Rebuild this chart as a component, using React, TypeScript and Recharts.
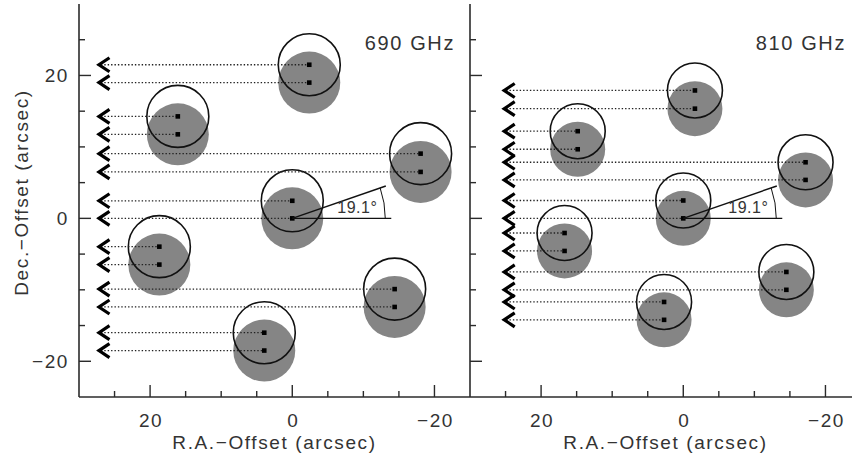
import React from 'react';
import { ScatterChart, Scatter, XAxis, YAxis, ReferenceDot } from 'recharts';

// ---- axes ----
const AXIS_DOMAIN: [number, number] = [-25, 30];
const X_TICKS = [25, 20, 15, 10, 5, 0, -5, -10, -15, -20];
const Y_TICKS = [-20, -15, -10, -5, 0, 5, 10, 15, 20, 25];
const LABELED_TICKS = [20, 0, -20];
const X_TITLE = 'R.A.\u2212Offset (arcsec)';
const Y_TITLE = 'Dec.\u2212Offset (arcsec)';

// ---- 690 GHz panel ----
const TITLE_690 = '690 GHz';
const RA_690 = [-2.39, 16.1, -18.05, 0, 18.7, -14.4, 3.94];
const DEC_LOW_690 = [19.0, 11.76, 6.5, 0, -6.47, -12.4, -18.5];
const DEC_HIGH_690 = [21.5, 14.27, 9.06, 2.46, -3.96, -9.9, -16.0];
const ARROW_RA_690 = 27.4;

// ---- 810 GHz panel ----
const TITLE_810 = '810 GHz';
const RA_810 = [-1.64, 14.85, -17.2, 0, 16.7, -14.5, 2.7];
const DEC_LOW_810 = [15.35, 9.67, 5.38, 0, -4.56, -10.0, -14.2];
const DEC_HIGH_810 = [17.9, 12.2, 7.85, 2.5, -2.05, -7.5, -11.7];
const ARROW_RA_810 = 25.4;

// ---- rotation angle marker ----
const ANGLE_DEG = 19.1;
const ANGLE_LABEL = '19.1\u00b0';
const ANGLE_ORIGIN = { x: 0, y: 0 };

// ---- styles ----
const FONT = "'Liberation Sans', Arial, Helvetica, sans-serif";
const TEXT = '#333';
const AXIS = '#2b2b2b';
const GRAY = '#858585';
const INK = '#111';

const fmt = (v: number) => (v < 0 ? '\u2212' + Math.abs(v) : String(v));
const isMajor = (v: number) => LABELED_TICKS.includes(v);
const tlen = (v: number) => (isMajor(v) ? 12 : 6);

const textStyle = { fontFamily: FONT, fill: TEXT, letterSpacing: 1.6 } as const;

const BottomTick = (p: any) => {
  const v = p.payload.value;
  return (
    <g>
      <line x1={p.x} y1={p.y} x2={p.x} y2={p.y - tlen(v)} stroke={AXIS} strokeWidth={1.4} />
      {isMajor(v) && (
        <text x={p.x + 1} y={p.y + 30} textAnchor="middle" fontSize={19} style={textStyle}>
          {fmt(v)}
        </text>
      )}
    </g>
  );
};
const TopTick = (p: any) => {
  const v = p.payload.value;
  return <line x1={p.x} y1={p.y} x2={p.x} y2={p.y + tlen(v)} stroke={AXIS} strokeWidth={1.4} />;
};
const LeftTickLabeled = (p: any) => {
  const v = p.payload.value;
  return (
    <g>
      <line x1={p.x} y1={p.y} x2={p.x + tlen(v)} y2={p.y} stroke={AXIS} strokeWidth={1.4} />
      {isMajor(v) && (
        <text x={p.x - 10} y={p.y + 7} textAnchor="end" fontSize={19} style={textStyle}>
          {fmt(v)}
        </text>
      )}
    </g>
  );
};
const LeftTick = (p: any) => {
  const v = p.payload.value;
  return <line x1={p.x} y1={p.y} x2={p.x + tlen(v)} y2={p.y} stroke={AXIS} strokeWidth={1.4} />;
};
const RightTick = (p: any) => {
  const v = p.payload.value;
  return <line x1={p.x} y1={p.y} x2={p.x - tlen(v)} y2={p.y} stroke={AXIS} strokeWidth={1.4} />;
};

const makeFilled = (r: number) => (p: any) => <circle cx={p.cx} cy={p.cy} r={r} fill={GRAY} />;
const makeOpen = (r: number) => (p: any) => (
  <circle cx={p.cx} cy={p.cy} r={r} fill="none" stroke={INK} strokeWidth={1.6} />
);

const TrackPoint = (p: any) => {
  const { cx, cy } = p;
  if (p.payload && p.payload.kind === 'arrow') {
    const d = `M${cx + 12},${cy - 7} L${cx + 1.5},${cy} L${cx + 12},${cy + 7}`;
    return <path d={d} fill="none" stroke="#000" strokeWidth={3.2} strokeLinejoin="miter" strokeMiterlimit={6} />;
  }
  return <rect x={cx - 2.3} y={cy - 2.3} width={4.6} height={4.6} fill="#000" />;
};

const AngleMark = (p: any) => {
  const { cx, cy } = p;
  const a = (ANGLE_DEG * Math.PI) / 180;
  const L = 99;
  const R = 93;
  return (
    <g>
      <line x1={cx} y1={cy} x2={cx + L * Math.cos(a)} y2={cy - L * Math.sin(a)} stroke={INK} strokeWidth={1.4} />
      <line x1={cx} y1={cy} x2={cx + L} y2={cy} stroke={INK} strokeWidth={1.4} />
      <path
        d={`M${cx + R},${cy} A${R},${R} 0 0 0 ${cx + R * Math.cos(a)},${cy - R * Math.sin(a)}`}
        fill="none"
        stroke={INK}
        strokeWidth={1}
      />
      <text x={cx + 65} y={cy - 5} textAnchor="middle" fontSize={16} style={{ fontFamily: FONT, fill: TEXT, letterSpacing: 0.5 }}>
        {ANGLE_LABEL}
      </text>
    </g>
  );
};

type PanelProps = {
  title: string;
  ra: number[];
  decLow: number[];
  decHigh: number[];
  arrowRa: number;
  beamR: number;
  width: number;
  yAxisWidth: number;
  showYLabels: boolean;
};

function Panel({ title, ra, decLow, decHigh, arrowRa, beamR, width, yAxisWidth, showYLabels }: PanelProps) {
  const filled = ra.map((x, i) => ({ x, y: decLow[i] }));
  const open = ra.map((x, i) => ({ x, y: decHigh[i] }));
  const tracks: { x: number; y: number; kind: string }[][] = [];
  ra.forEach((x, i) => {
    [decHigh[i], decLow[i]].forEach((y) => {
      tracks.push([
        { x: arrowRa, y, kind: 'arrow' },
        { x, y, kind: 'dot' },
      ]);
    });
  });
  const axisLine = { stroke: AXIS, strokeWidth: 1.6 };
  return (
    <ScatterChart width={width} height={457} margin={{ top: 4, right: 2, bottom: 0, left: 0 }}>
      <XAxis
        type="number"
        dataKey="x"
        domain={AXIS_DOMAIN}
        reversed
        allowDataOverflow
        ticks={X_TICKS}
        interval={0}
        tickSize={0}
        tickMargin={0}
        tickLine={false}
        axisLine={axisLine}
        tick={(p: any) => <BottomTick {...p} />}
        height={60}
      />
      <XAxis
        xAxisId="top"
        orientation="top"
        type="number"
        domain={AXIS_DOMAIN}
        reversed
        allowDataOverflow
        ticks={X_TICKS}
        interval={0}
        tickSize={0}
        tickMargin={0}
        tickLine={false}
        axisLine={axisLine}
        tick={(p: any) => <TopTick {...p} />}
        height={0}
      />
      <YAxis
        type="number"
        dataKey="y"
        domain={AXIS_DOMAIN}
        allowDataOverflow
        ticks={Y_TICKS}
        interval={0}
        tickSize={0}
        tickMargin={0}
        tickLine={false}
        axisLine={axisLine}
        tick={(p: any) => (showYLabels ? <LeftTickLabeled {...p} /> : <LeftTick {...p} />)}
        width={yAxisWidth}
      />
      <YAxis
        yAxisId="right"
        orientation="right"
        type="number"
        domain={AXIS_DOMAIN}
        allowDataOverflow
        ticks={Y_TICKS}
        interval={0}
        tickSize={0}
        tickMargin={0}
        tickLine={false}
        axisLine={axisLine}
        tick={(p: any) => <RightTick {...p} />}
        width={0}
      />
      <Scatter data={filled} shape={makeFilled(beamR)} isAnimationActive={false} />
      <Scatter data={open} shape={makeOpen(beamR)} isAnimationActive={false} />
      {tracks.map((t, i) => (
        <Scatter
          key={i}
          data={t}
          line={{ stroke: '#222', strokeWidth: 1.3, strokeDasharray: '1.4 2' }}
          shape={(p: any) => <TrackPoint {...p} />}
          isAnimationActive={false}
        />
      ))}
      <Scatter data={[ANGLE_ORIGIN]} shape={(p: any) => <AngleMark {...p} />} isAnimationActive={false} />
      <ReferenceDot
        x={AXIS_DOMAIN[0]}
        y={AXIS_DOMAIN[1]}
        ifOverflow="visible"
        shape={(p: any) => (
          <text x={p.cx - 15} y={p.cy + 46} textAnchor="end" fontSize={20} style={textStyle}>
            {title}
          </text>
        )}
      />
      <ReferenceDot
        x={(AXIS_DOMAIN[0] + AXIS_DOMAIN[1]) / 2}
        y={AXIS_DOMAIN[0]}
        ifOverflow="visible"
        shape={(p: any) => (
          <text x={p.cx} y={p.cy + 52} textAnchor="middle" fontSize={19} style={textStyle}>
            {X_TITLE}
          </text>
        )}
      />
      {showYLabels && (
        <ReferenceDot
          x={AXIS_DOMAIN[1]}
          y={(AXIS_DOMAIN[0] + AXIS_DOMAIN[1]) / 2}
          ifOverflow="visible"
          shape={(p: any) => (
            <text
              x={p.cx - 51}
              y={p.cy - 8}
              textAnchor="middle"
              fontSize={19}
              style={textStyle}
              transform={`rotate(-90 ${p.cx - 51} ${p.cy - 8})`}
            >
              {Y_TITLE}
            </text>
          )}
        />
      )}
    </ScatterChart>
  );
}

export default function App() {
  return (
    <div
      style={{
        position: 'absolute',
        left: 0,
        top: 0,
        width: 852,
        height: 457,
        overflow: 'hidden',
        background: '#fff',
      }}
    >
      <div style={{ position: 'absolute', left: 0, top: 0 }}>
        <Panel
          title={TITLE_690}
          ra={RA_690}
          decLow={DEC_LOW_690}
          decHigh={DEC_HIGH_690}
          arrowRa={ARROW_RA_690}
          beamR={31}
          width={472}
          yAxisWidth={79}
          showYLabels
        />
      </div>
      <div style={{ position: 'absolute', left: 460, top: 0 }}>
        <Panel
          title={TITLE_810}
          ra={RA_810}
          decLow={DEC_LOW_810}
          decHigh={DEC_HIGH_810}
          arrowRa={ARROW_RA_810}
          beamR={27.5}
          width={403}
          yAxisWidth={10}
          showYLabels={false}
        />
      </div>
    </div>
  );
}
